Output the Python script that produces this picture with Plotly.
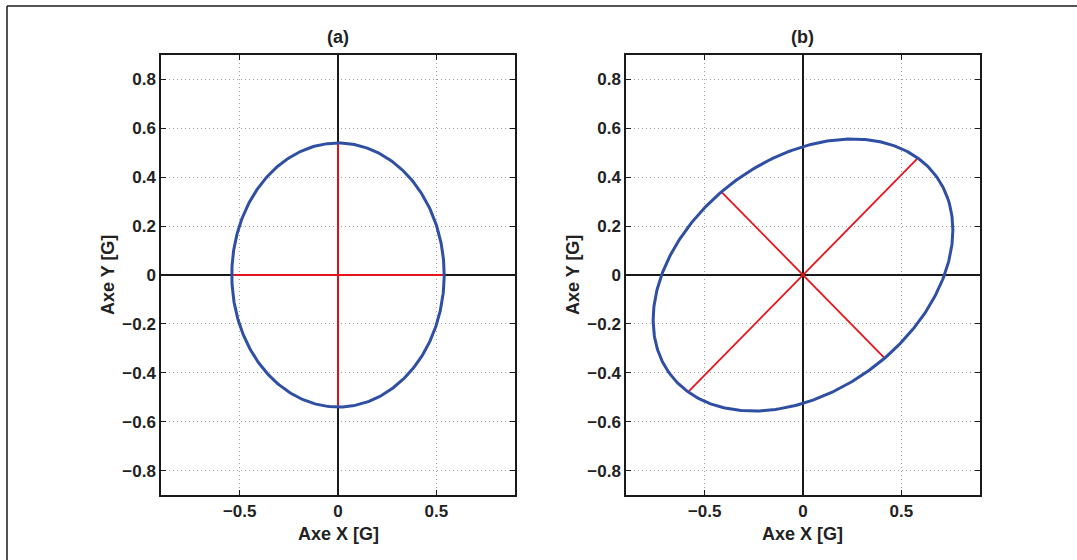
import numpy as np
import plotly.graph_objects as go

# ---- data ----
x_ticks = [-0.5, 0, 0.5]
x_tick_labels = ["\u22120.5", "0", "0.5"]
y_ticks = [-0.8, -0.6, -0.4, -0.2, 0, 0.2, 0.4, 0.6, 0.8]
y_tick_labels = ["\u22120.8", "\u22120.6", "\u22120.4", "\u22120.2", "0", "0.2", "0.4", "0.6", "0.8"]
axis_range = [-0.9, 0.9]

# panel (a): circle
circle_radius = 0.54
a_seg1_x = [-0.54, 0.54]
a_seg1_y = [0.0, 0.0]
a_seg2_x = [0.0, 0.0]
a_seg2_y = [-0.54, 0.54]

# panel (b): rotated ellipse
ellipse_semi_major = 0.80
ellipse_semi_minor = 0.50
ellipse_angle_deg = 23.0
b_seg1_x = [-0.58, 0.58]
b_seg1_y = [-0.475, 0.475]
b_seg2_x = [-0.415, 0.415]
b_seg2_y = [0.34, -0.34]

titles = ["(a)", "(b)"]
x_label = "Axe X [G]"
y_label = "Axe Y [G]"

# ---- build curves from the parameters ----
t = np.linspace(0, 2 * np.pi, 400)
circ_x = circle_radius * np.cos(t)
circ_y = circle_radius * np.sin(t)
th = np.deg2rad(ellipse_angle_deg)
ell_x = ellipse_semi_major * np.cos(t) * np.cos(th) - ellipse_semi_minor * np.sin(t) * np.sin(th)
ell_y = ellipse_semi_major * np.cos(t) * np.sin(th) + ellipse_semi_minor * np.sin(t) * np.cos(th)

BLUE = "#2f4fa2"
RED = "#e8141c"
DARK = "#1a1a1a"
FONT = "Liberation Sans, Arial, Helvetica, sans-serif"

fig = go.Figure()

def add_panel(xa, ya, cx, cy, segs):
    for sx, sy in segs:
        fig.add_trace(go.Scatter(x=sx, y=sy, mode="lines", xaxis=xa, yaxis=ya,
                                 line=dict(color=RED, width=1.8), showlegend=False,
                                 hoverinfo="skip"))
    fig.add_trace(go.Scatter(x=cx, y=cy, mode="lines", xaxis=xa, yaxis=ya,
                             line=dict(color=BLUE, width=3), showlegend=False,
                             hoverinfo="skip"))

add_panel("x", "y", circ_x, circ_y, [(a_seg1_x, a_seg1_y), (a_seg2_x, a_seg2_y)])
add_panel("x2", "y2", ell_x, ell_y, [(b_seg1_x, b_seg1_y), (b_seg2_x, b_seg2_y)])

W, H = 1077, 560
dom_x1 = [161 / W, 515 / W]
dom_x2 = [626 / W, 980 / W]
dom_y = [1 - 495 / H, 1 - 55 / H]

tickfont = dict(family=FONT, size=17, color="#222222", weight="bold")
GRID = "#a0a0a0"
GRIDDASH = "1px,3px"

def xaxis(dom, anchor):
    return dict(domain=dom, anchor=anchor, range=axis_range, tickmode="array",
                tickvals=x_ticks, ticktext=x_tick_labels, ticks="inside", ticklen=5,
                tickcolor=DARK, showline=True, linecolor=DARK, linewidth=1.5,
                mirror="ticks", showgrid=True, gridcolor=GRID, griddash=GRIDDASH,
                gridwidth=1, zeroline=True, zerolinecolor=DARK, zerolinewidth=2,
                tickfont=tickfont, fixedrange=True)

def yaxis(anchor):
    return dict(domain=dom_y, anchor=anchor, range=axis_range, tickmode="array",
                tickvals=y_ticks, ticktext=y_tick_labels, ticks="inside", ticklen=5,
                tickcolor=DARK, showline=True, linecolor=DARK, linewidth=1.5,
                mirror="ticks", showgrid=True, gridcolor=GRID, griddash=GRIDDASH,
                gridwidth=1, zeroline=True, zerolinecolor=DARK, zerolinewidth=2,
                tickfont=tickfont, fixedrange=True)

lblfont = dict(family=FONT, size=18, color="#222222", weight="bold")
annotations = []
for dom, title in zip([dom_x1, dom_x2], titles):
    xc = (dom[0] + dom[1]) / 2
    annotations.append(dict(text=title, x=xc, y=1 - 37 / H, xref="paper", yref="paper",
                            showarrow=False, xanchor="center", yanchor="middle",
                            font=dict(family=FONT, size=18, color="#222222", weight="bold")))
    annotations.append(dict(text=x_label, x=xc, y=1 - 522 / H, xref="paper", yref="paper",
                            showarrow=False, xanchor="center", yanchor="top",
                            font=lblfont))
for xpix in [108, 573]:
    annotations.append(dict(text=y_label, x=xpix / W, y=(dom_y[0] + dom_y[1]) / 2,
                            xref="paper", yref="paper", showarrow=False, textangle=-90,
                            xanchor="center", yanchor="middle", font=lblfont))

shapes = [
    dict(type="line", xref="paper", yref="paper", x0=7 / W, x1=1.0, y0=1 - 6 / H, y1=1 - 6 / H,
         line=dict(color=DARK, width=1.5)),
    dict(type="line", xref="paper", yref="paper", x0=7 / W, x1=7 / W, y0=0.0, y1=1 - 6 / H,
         line=dict(color=DARK, width=1.5)),
]

fig.update_layout(
    width=W, height=H, margin=dict(l=0, r=0, t=0, b=0),
    paper_bgcolor="white", plot_bgcolor="white",
    xaxis=xaxis(dom_x1, "y"), yaxis=yaxis("x"),
    xaxis2=xaxis(dom_x2, "y2"), yaxis2=yaxis("x2"),
    annotations=annotations, shapes=shapes, showlegend=False,
)

fig.write_html("out.html")
